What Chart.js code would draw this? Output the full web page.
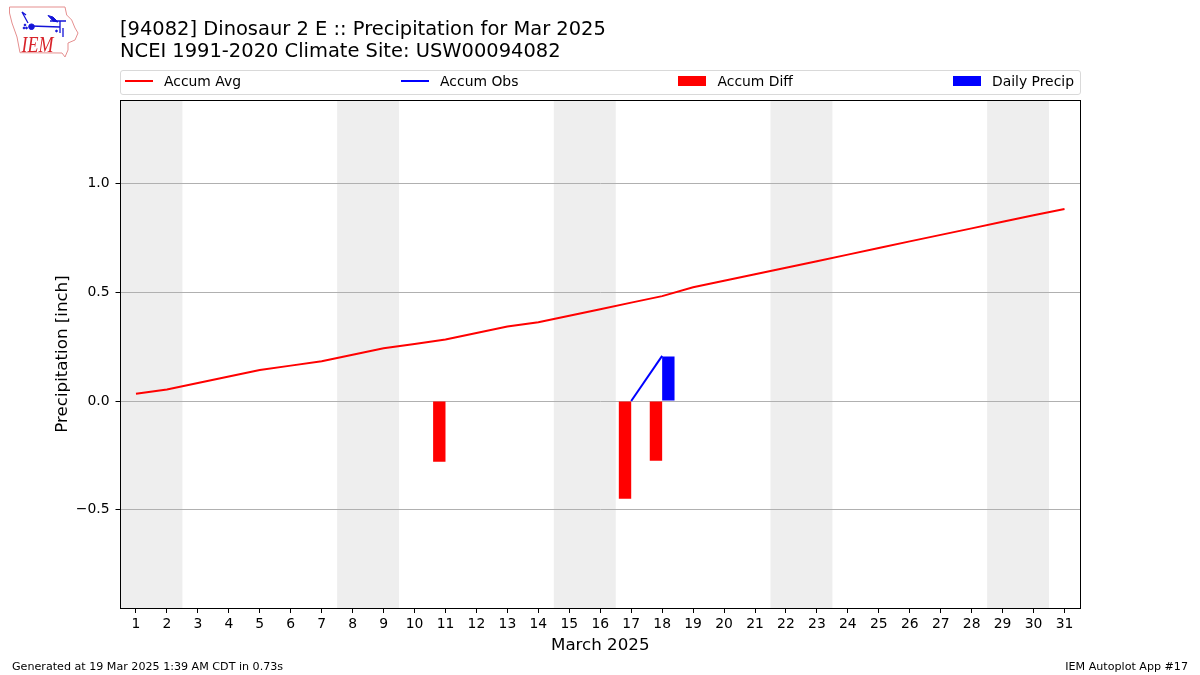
<!DOCTYPE html>
<html>
<head>
<meta charset="utf-8">
<title>Precipitation for Mar 2025</title>
<script src="https://cdn.jsdelivr.net/npm/chart.js@4"></script>
<style>
    html, body { margin: 0; padding: 0; background: #fff; }
    body { width: 1200px; height: 675px; position: relative; overflow: hidden; font-family: 'DejaVu Sans', sans-serif; color: #000; }
    canvas { position: absolute; left: 0; top: 0; }
    #logo { position: absolute; left: 0; top: 0; }
    #title { position: absolute; left: 120px; top: 18px; font-size: 19.47px; line-height: 22px; white-space: nowrap; }
    #legend { position: absolute; left: 120px; top: 70px; width: 959px; height: 20px; padding-bottom: 3px; border: 1px solid #d9d9d9; border-radius: 3px; display: flex; justify-content: space-between; align-items: center; font-size: 13.9px; }
    .item { display: flex; align-items: center; margin: 0 6px 0 4px; }
    .item i { display: block; width: 28px; margin-right: 11px; }
    .item i.line { height: 2px; }
    .item i.box { height: 10px; }
    .foot { position: absolute; top: 660px; font-size: 11.11px; white-space: nowrap; }
</style>
</head>
<body>
<canvas id="chart" width="1200" height="675"></canvas>
<svg id="logo" width="90" height="62" viewBox="0 0 90 62">
    <path d="M9.5 7 L65 7 L66.7 15 L71.7 20 L75 28 L78 33 L75 40 L68 43 L68 50 L65 57 L62 53 L20 52.7 L17 37 L12 23 L9.5 13 Z" fill="none" stroke="#e58f8f" stroke-width="1"/>
    <g stroke="#1414d8" fill="#1414d8">
        <path d="M31 26 L60 27 M60 21 L60 33 M50 21 L66 21 M63 28 L63 37 M28 23 L22 12 L26 15" fill="none" stroke-width="1.3"/>
        <circle cx="31.5" cy="26.7" r="2.8"/>
        <path d="M48 15.5 L53 17 L58 22 L53 21 Z"/>
        <circle cx="24" cy="28" r="0.9"/>
        <circle cx="26.5" cy="28" r="0.9"/>
        <circle cx="25" cy="25" r="0.9"/>
        <circle cx="56.5" cy="31" r="0.9"/>
    </g>
    <text x="21.5" y="51.7" font-family="Liberation Serif" font-style="italic" font-size="23" textLength="32" lengthAdjust="spacingAndGlyphs" fill="#d8232a">IEM</text>
</svg>
<div id="title">[94082] Dinosaur 2 E :: Precipitation for Mar 2025<br>NCEI 1991-2020 Climate Site: USW00094082</div>
<div id="legend"></div>
<div class="foot" style="left:12px">Generated at 19 Mar 2025 1:39 AM CDT in 0.73s</div>
<div class="foot" style="right:12px">IEM Autoplot App #17</div>
<script>
const days = ['1','2','3','4','5','6','7','8','9','10','11','12','13','14','15','16','17','18','19','20','21','22','23','24','25','26','27','28','29','30','31'];
const accumAvg = [0.033,0.053,0.083,0.113,0.143,0.163,0.183,0.213,0.243,0.263,0.283,0.313,0.343,0.363,0.393,0.423,0.453,0.483,0.524,0.554,0.584,0.614,0.644,0.674,0.705,0.735,0.765,0.795,0.825,0.855,0.884];
const accumObs = [null,null,null,null,null,null,null,null,null,null,null,null,null,null,null,null,0,0.208,null,null,null,null,null,null,null,null,null,null,null,null,null];
const accumDiff = [null,null,null,null,null,null,null,null,null,null,-0.28,null,null,null,null,null,-0.45,-0.275,null,null,null,null,null,null,null,null,null,null,null,null,null];
const dailyPrecip = [null,null,null,null,null,null,null,null,null,null,null,null,null,null,null,null,null,0.205,null,null,null,null,null,null,null,null,null,null,null,null,null];
const yTicks = [-0.5, 0, 0.5, 1];
// weekend shading, day numbers on the x axis
const weekends = [[1,2],[8,9],[15,16],[22,23],[29,30]];

const plotLeft = 120.5, plotRight = 1080, plotTop = 100, plotBottom = 608;
const padLeft = 53, padBottom = 19;

const frame = {
    id: 'frame',
    beforeDraw(chart) {
        const ctx = chart.ctx, a = chart.chartArea, x = chart.scales.x;
        ctx.save();
        ctx.fillStyle = '#eeeeee';
        weekends.forEach(w => {
            const x0 = x.getPixelForValue(w[0] - 1) - x.width / 62;
            const x1 = x.getPixelForValue(w[1] - 1) + x.width / 62;
            ctx.fillRect(x0, a.top, x1 - x0, a.bottom - a.top);
        });
        ctx.restore();
    },
    afterDraw(chart) {
        const ctx = chart.ctx, a = chart.chartArea;
        ctx.save();
        ctx.strokeStyle = '#000';
        ctx.lineWidth = 1;
        ctx.strokeRect(Math.floor(a.left) + 0.5, a.top + 0.5, a.right - Math.floor(a.left), a.bottom - a.top);
        ctx.restore();
    }
};

new Chart(document.getElementById('chart').getContext('2d'), {
    type: 'bar',
    data: {
        labels: days,
        datasets: [
            { type: 'line', label: 'Accum Avg', data: accumAvg, borderColor: '#ff0000', backgroundColor: '#ff0000', borderWidth: 2, pointRadius: 0, tension: 0, order: 1 },
            { type: 'line', label: 'Accum Obs', data: accumObs, borderColor: '#0000ff', backgroundColor: '#0000ff', borderWidth: 2, pointRadius: 0, tension: 0, order: 1 },
            { label: 'Accum Diff', data: accumDiff, backgroundColor: '#ff0000', categoryPercentage: 0.8, barPercentage: 1, order: 2 },
            { label: 'Daily Precip', data: dailyPrecip, backgroundColor: '#0000ff', categoryPercentage: 0.8, barPercentage: 1, order: 2 }
        ]
    },
    options: {
        responsive: false,
        animation: false,
        devicePixelRatio: 1,
        layout: { padding: { left: padLeft, right: 1200 - plotRight, top: plotTop, bottom: padBottom } },
        plugins: { legend: { display: false }, title: { display: false }, tooltip: { enabled: false } },
        scales: {
            x: {
                offset: true,
                grid: { offset: false, drawOnChartArea: false, tickColor: '#000', tickLength: 5, tickWidth: 1 },
                border: { display: false },
                ticks: { autoSkip: false, maxRotation: 0, color: '#000', padding: 3, font: { family: 'DejaVu Sans', size: 13.9 } },
                title: { display: true, text: 'March 2025', color: '#000', padding: { top: 2, bottom: 0 }, font: { family: 'DejaVu Sans', size: 16.67 } },
                afterFit(scale) { scale.height = 675 - plotBottom - padBottom; }
            },
            y: {
                min: -0.953,
                max: 1.386,
                grid: { color: '#b0b0b0', lineWidth: 1, tickColor: '#000', tickLength: 5 },
                border: { display: false },
                afterBuildTicks(scale) { scale.ticks = yTicks.map(v => ({ value: v })); },
                ticks: {
                    color: '#000',
                    padding: 6,
                    font: { family: 'DejaVu Sans', size: 13.9 },
                    callback: v => (v < 0 ? '\u2212' : '') + Math.abs(v).toFixed(1)
                },
                title: { display: true, text: 'Precipitation [inch]', color: '#000', padding: 0, font: { family: 'DejaVu Sans', size: 16.67 } },
                afterFit(scale) { scale.width = plotLeft - padLeft; }
            }
        }
    },
    plugins: [frame]
});

// legend row, same entries as the datasets
const legendItems = [['Accum Avg', 'line', '#ff0000'], ['Accum Obs', 'line', '#0000ff'], ['Accum Diff', 'box', '#ff0000'], ['Daily Precip', 'box', '#0000ff']];
document.getElementById('legend').innerHTML = legendItems.map(it =>
    `<span class="item"><i class="${it[1]}" style="background:${it[2]}"></i>${it[0]}</span>`
).join('');
</script>
</body>
</html>
